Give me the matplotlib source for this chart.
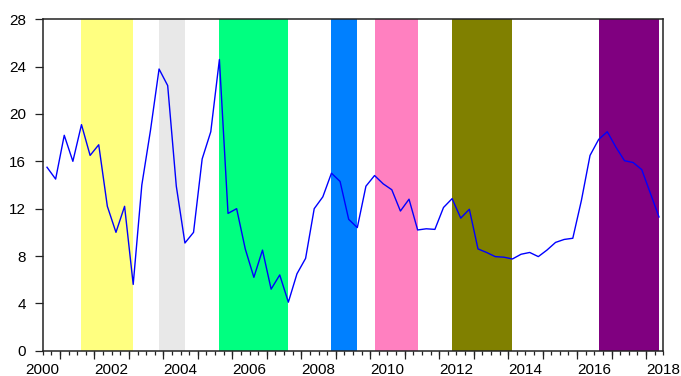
import numpy as np
import matplotlib
matplotlib.use("Agg")
import matplotlib.pyplot as plt

# quarterly series, 2000Q1 - 2017Q4
values = [
    15.5, 14.5, 18.2, 16.0, 19.1, 16.5, 17.4, 12.2,
    10.0, 12.2, 5.6, 14.0, 18.6, 23.8, 22.4, 13.9,
    9.1, 10.0, 16.2, 18.5, 24.6, 11.6, 12.0, 8.6,
    6.2, 8.5, 5.2, 6.4, 4.1, 6.5, 7.8, 12.0,
    13.0, 15.0, 14.3, 11.1, 10.4, 13.9, 14.8, 14.1,
    13.6, 11.8, 12.8, 10.2, 10.3, 10.25, 12.1, 12.85,
    11.2, 11.95, 8.6, 8.3, 7.95, 7.9, 7.75, 8.15,
    8.3, 7.95, 8.5, 9.15, 9.4, 9.5, 12.7, 16.5,
    17.85, 18.5, 17.2, 16.05, 15.9, 15.3, 13.3, 11.3,
]

# shaded periods as (first obs index, last obs index, colour)
band_start = [4, 13, 20, 33, 38, 47, 64]
band_end = [10, 16, 28, 36, 43, 54, 71]
band_colors = ["#FFFF80", "#E8E8E8", "#00FF80", "#0080FF",
               "#FF80C0", "#808000", "#800080"]

year_labels = list(range(2000, 2019, 2))

obs = np.arange(len(values))
t = 2000 + (obs + 0.5) / 4.0

plt.rcParams["font.family"] = ["Liberation Sans", "DejaVu Sans"]

fig = plt.figure(figsize=(6.81, 3.76), dpi=100)
ax = fig.add_axes([42.7 / 681, 25.3 / 376, 620.6 / 681, 331.4 / 376])

for s, e, c in zip(band_start, band_end, band_colors):
    ax.axvspan(t[s], t[e], color=c, lw=0, zorder=0)

ax.plot(t, values, color="#0000FF", lw=1.0, zorder=3)

ax.set_xlim(2000, 2018)
ax.set_ylim(0, 28)
ax.set_yticks(range(0, 29, 4))

# labels at even years, short ticks every quarter
ax.set_xticks(year_labels)
ax.set_xticklabels([str(y) for y in year_labels])
ax.set_xticks(np.arange(2000, 2018.01, 0.25), minor=True)
ax.tick_params(axis="x", which="both", direction="out", length=3,
               width=0.9, color="#222222", labelsize=11, pad=6)
ax.tick_params(axis="y", which="major", direction="out", length=6,
               width=0.9, color="#222222", labelsize=11, pad=6)
ax.tick_params(top=False, right=False)

# taller marks at mid-year
mid = ax.secondary_xaxis("bottom")
mid.set_xticks(np.arange(2000.5, 2018, 1.0))
mid.set_xticklabels([])
mid.tick_params(direction="out", length=6, width=0.9, color="#222222")
mid.spines["bottom"].set_visible(False)

for sp in ax.spines.values():
    sp.set_color("#222222")
    sp.set_linewidth(1.1)

fig.savefig("out.png", dpi=100)
